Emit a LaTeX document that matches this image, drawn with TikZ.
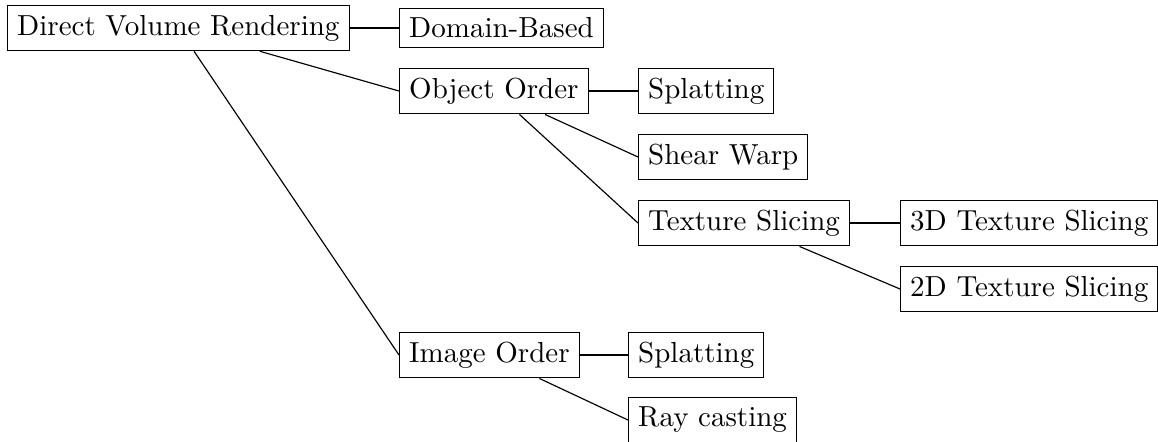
\documentclass[tikz,border=0pt]{standalone}
\begin{document}
\begin{tikzpicture}[x=0.345pt, y=-0.345pt,
    box/.style={draw, anchor=west},
    link/.style={draw}]
  \useasboundingbox (0,0) rectangle (1158,441);

  % root and first level
  \node[box] (dvr)  at (7,28)    {Direct Volume Rendering};
  \node[box] (dom)  at (399,28)  {Domain-Based};
  \node[box] (obj)  at (399,91)  {Object Order};
  \node[box] (img)  at (399,355) {Image Order};

  % object order techniques
  \node[box] (spla) at (638,91)  {Splatting};
  \node[box] (shw)  at (638,157) {Shear Warp};
  \node[box] (tex)  at (638,223) {Texture Slicing};
  \node[box] (tex3) at (900,223) {3D Texture Slicing};
  \node[box] (tex2) at (900,289) {2D Texture Slicing};

  % image order techniques
  \node[box] (splb) at (628,355) {Splatting};
  \node[box] (ray)  at (628,420) {Ray casting};

  % connectors: parent to child's west side
  \draw[link] (dvr) -- (dom.west);
  \draw[link] (dvr) -- (obj.west);
  \draw[link] (dvr) -- (img.west);
  \draw[link] (obj) -- (spla.west);
  \draw[link] (obj) -- (shw.west);
  \draw[link] (obj) -- (tex.west);
  \draw[link] (tex) -- (tex3.west);
  \draw[link] (tex) -- (tex2.west);
  \draw[link] (img) -- (splb.west);
  \draw[link] (img) -- (ray.west);
\end{tikzpicture}
\end{document}
